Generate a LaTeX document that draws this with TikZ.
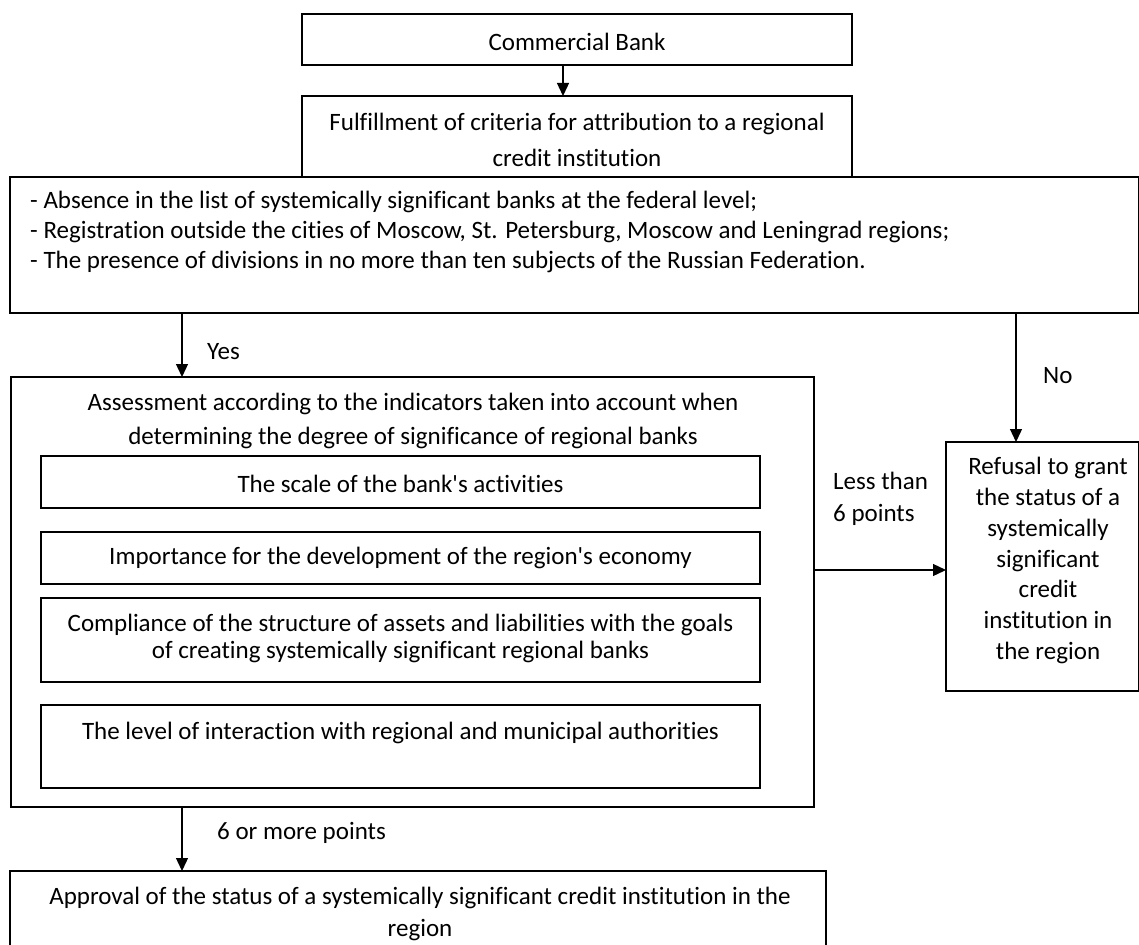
\documentclass[tikz,border=0pt]{standalone}
\usepackage{fontspec}
\setmainfont{Carlito}[Ligatures={NoCommon}]
\usetikzlibrary{arrows.meta}
\newcommand{\fs}[1]{\fontsize{25}{#1}\selectfont}
\begin{document}
\begin{tikzpicture}[x=1pt,y=-1pt,
  box/.style={draw, line width=1.3pt, rectangle, inner sep=0pt, outer sep=0pt},
  txt/.style={inner sep=0pt, align=center, font=\fs{31}},
  ltxt/.style={inner sep=0pt, align=left, anchor=west, font=\fs{31}},
  arr/.style={line width=1.3pt, -{Triangle[length=13pt,width=12pt]}}]
\useasboundingbox (0,0) rectangle (1139,944);
\clip (0,0) rectangle (1139,944);
% boxes
\node[box, minimum width=550pt, minimum height=51pt] (b1) at (577,39.5) {};
\node[box, minimum width=550pt, minimum height=81pt] (b2) at (577,136.5) {};
\node[box, minimum width=1128.5pt, minimum height=136pt] (b3) at (574.25,245) {};
\node[box, minimum width=803pt, minimum height=430pt] (b4) at (412.5,592) {};
\node[box, minimum width=719pt, minimum height=52pt] (s1) at (400.5,482) {};
\node[box, minimum width=719pt, minimum height=52pt] (s2) at (400.5,558) {};
\node[box, minimum width=719pt, minimum height=84pt] (s3) at (400.5,640) {};
\node[box, minimum width=719pt, minimum height=83pt] (s4) at (400.5,746.5) {};
\node[box, minimum width=192.5pt, minimum height=249pt] (r) at (1042.25,566.5) {};
\node[box, minimum width=816pt, minimum height=89pt] (ap) at (418,915.5) {};
% texts
\node[txt] (t1) at (577,42) {Commercial Bank};
\node[txt, font=\fs{36}] (t2) at (577,140) {Fulfillment of criteria for attribution to a regional\\credit institution};
\node[ltxt, font=\fs{30}] (t3) at (30,232) {- Absence in the list of systemically significant banks at the federal level;\\- Registration outside the cities of Moscow, St. Petersburg, Moscow and Leningrad regions;\\- The presence of divisions in no more than ten subjects of the Russian Federation.};
\node[txt, font=\fs{34}] (t4) at (413,421) {Assessment according to the indicators taken into account when\\determining the degree of significance of regional banks};
\node[txt] (t5) at (400.5,484) {The scale of the bank\textquotesingle s activities};
\node[txt] (t6) at (400.5,558) {Importance for the development of the region\textquotesingle s economy};
\node[txt, font=\fs{27}] (t7) at (400.5,638.5) {Compliance of the structure of assets and liabilities with the goals\\of creating systemically significant regional banks};
\node[txt] (t8) at (400.5,733) {The level of interaction with regional and municipal authorities};
\node[txt, font=\fs{30.8}] (t9) at (1048,560.5) {Refusal to grant\\the status of a\\systemically\\significant\\credit\\institution in\\the region};
\node[txt, font=\fs{32}] (t10) at (420,914) {Approval of the status of a systemically significant credit institution in the\\region};
% labels
\node[ltxt] (lyes) at (207,352) {Yes};
\node[ltxt] (lno) at (1043,376) {No};
\node[ltxt, font=\fs{32}] (lless) at (833,499) {Less than\\6 points};
\node[ltxt] (lsix) at (217,833) {6 or more points};
% connector positions
\coordinate (c1) at (563,0);
\coordinate (cy) at (182,0);
\coordinate (cn) at (1016,0);
\coordinate (cl) at (0,570);
% connectors
\draw[arr] (b1.south -| c1) -- (b2.north -| c1);
\draw[arr] (b3.south -| cy) -- (b4.north -| cy);
\draw[arr] (b3.south -| cn) -- (r.north -| cn);
\draw[arr] (b4.east |- cl) -- (r.west |- cl);
\draw[arr] (b4.south -| cy) -- (ap.north -| cy);
\end{tikzpicture}
\end{document}
